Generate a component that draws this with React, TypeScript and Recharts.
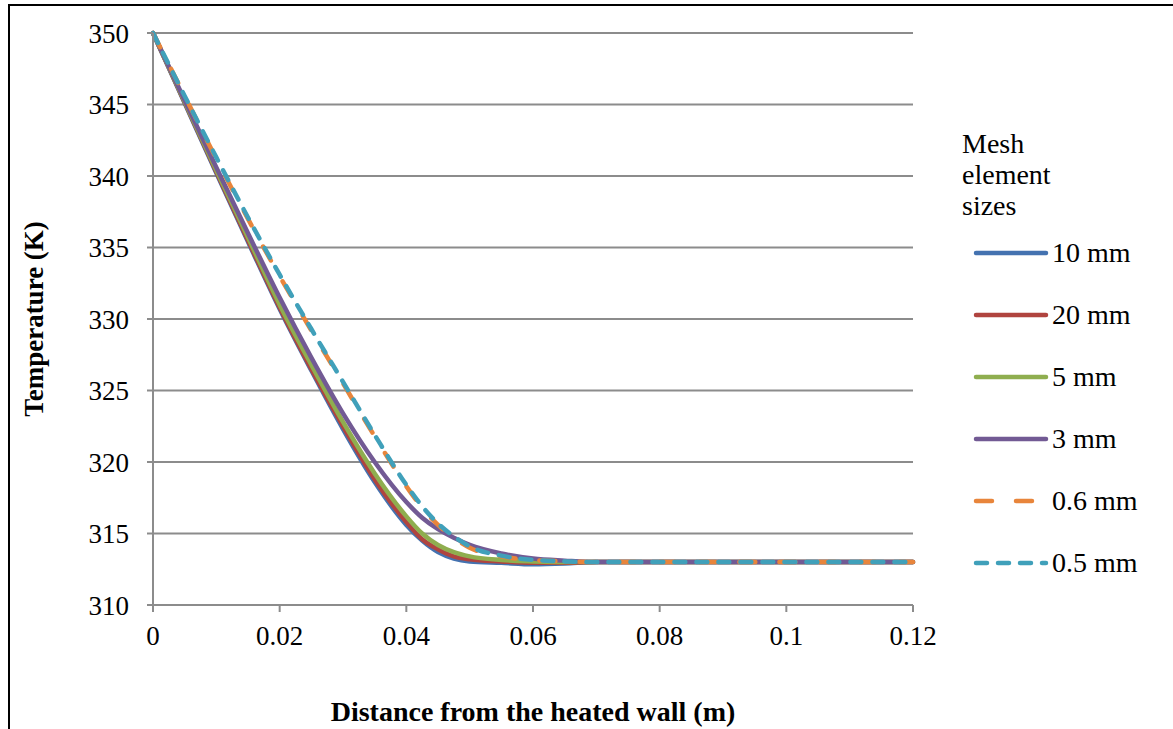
import React from "react";
import { LineChart, Line, XAxis, YAxis, CartesianGrid, Legend, Label } from "recharts";

// distance from the heated wall (m)
const DIST = [0, 0.005, 0.01, 0.015, 0.02, 0.025, 0.03, 0.035, 0.04, 0.0425, 0.045, 0.0475, 0.05, 0.055, 0.06, 0.065, 0.07, 0.08, 0.09, 0.1, 0.11, 0.12];

// temperature (K) per mesh element size
const T_10MM = [350, 345.1, 340.2, 335.4, 330.7, 326.4, 322.3, 318.6, 315.6, 314.5, 313.7, 313.25, 313.05, 312.95, 312.85, 312.9, 313.0, 313, 313, 313, 313, 313];
const T_20MM = [350, 345.15, 340.3, 335.5, 330.8, 326.5, 322.5, 318.8, 315.8, 314.6, 313.9, 313.4, 313.2, 313.05, 312.95, 312.95, 313.0, 313, 313, 313, 313, 313];
const T_5MM = [350, 345.2, 340.4, 335.7, 331.0, 326.8, 322.8, 319.2, 316.2, 315.0, 314.2, 313.7, 313.4, 313.15, 313.05, 313.0, 313.0, 313, 313, 313, 313, 313];
const T_3MM = [350, 345.3, 340.6, 336.0, 331.5, 327.3, 323.4, 320.0, 317.2, 316.1, 315.3, 314.7, 314.2, 313.6, 313.25, 313.1, 313.0, 313, 313, 313, 313, 313];
const T_06MM = [350, 345.6, 341.2, 337.0, 333.0, 329.2, 325.5, 321.8, 318.3, 316.8, 315.6, 314.7, 314.0, 313.4, 313.15, 313.05, 313.0, 313, 313, 313, 313, 313];
const T_05MM = [350, 345.6, 341.3, 337.1, 333.1, 329.3, 325.6, 321.9, 318.4, 316.9, 315.7, 314.8, 314.1, 313.45, 313.15, 313.05, 313.0, 313, 313, 313, 313, 313];

const X_TICKS = [0, 0.02, 0.04, 0.06, 0.08, 0.1, 0.12];
const Y_TICKS = [310, 315, 320, 325, 330, 335, 340, 345, 350];

const SERIES = [
    { key: "t10", name: "10 mm", values: T_10MM, color: "#4472b0", dash: undefined },
    { key: "t20", name: "20 mm", values: T_20MM, color: "#b0443f", dash: undefined },
    { key: "t5", name: "5 mm", values: T_5MM, color: "#8fae4f", dash: undefined },
    { key: "t3", name: "3 mm", values: T_3MM, color: "#725a94", dash: undefined },
    { key: "t06", name: "0.6 mm", values: T_06MM, color: "#e8853b", dash: "16 24" },
    { key: "t05", name: "0.5 mm", values: T_05MM, color: "#40a0ba", dash: "11 11" },
];

const FONT = "'Liberation Serif', 'Times New Roman', serif";
const FS = 27;

const rows = DIST.map((x, i) => {
    const row: Record<string, number> = { x };
    SERIES.forEach(s => { row[s.key] = s.values[i]; });
    return row;
});

function MeshLegend() {
    return (
        <div style={{ fontFamily: FONT, fontSize: 28, color: "#000", width: 210 }}>
            <div style={{ lineHeight: "31px", marginBottom: 1 }}>Mesh<br />element<br />sizes</div>
            {SERIES.map(s => (
                <div key={s.key} style={{ display: "flex", alignItems: "center", height: 62 }}>
                    <svg width={80} height={10} style={{ marginLeft: 10 }}>
                        <line x1={4} y1={5} x2={74} y2={5} stroke={s.color} strokeWidth={4.5}
                            strokeLinecap="round" strokeDasharray={s.dash} />
                    </svg>
                    <span>{s.name}</span>
                </div>
            ))}
        </div>
    );
}

export default function App() {
    return (
        <div style={{ position: "absolute", left: 0, top: 0, width: 1173, height: 729, background: "#fff", overflow: "hidden" }}>
            {/* outer frame, right and bottom edges are cropped off */}
            <div style={{ position: "absolute", left: 8, top: 4, width: 1180, height: 740, border: "2px solid #000", boxSizing: "border-box" }} />
            <LineChart width={1173} height={729} data={rows}
                margin={{ top: 33, right: 260, bottom: 94, left: 93 }}>
                <CartesianGrid vertical={false} stroke="#8c8c8c" strokeWidth={2} />
                <XAxis dataKey="x" type="number" domain={[0, 0.12]} ticks={X_TICKS} height={30}
                    stroke="#8c8c8c" strokeWidth={2} tickSize={7} tickMargin={14}
                    tick={{ fill: "#000", fontSize: FS, fontFamily: FONT }}
                    tickFormatter={(v: number) => String(v)}>
                    <Label value="Distance from the heated wall (m)" position="bottom" offset={66}
                        style={{ fill: "#000", fontSize: 28, fontWeight: "bold", fontFamily: FONT }} />
                </XAxis>
                <YAxis type="number" domain={[310, 350]} ticks={Y_TICKS} width={60} interval={0}
                    stroke="#8c8c8c" strokeWidth={2} tickSize={6} tickMargin={18}
                    tick={{ fill: "#000", fontSize: FS, fontFamily: FONT }}>
                    <Label value="Temperature (K)" angle={-90} position="insideLeft" offset={-60}
                        style={{ fill: "#000", fontSize: FS, fontWeight: "bold", fontFamily: FONT, textAnchor: "middle" }} />
                </YAxis>
                {SERIES.map(s => (
                    <Line key={s.key} dataKey={s.key} name={s.name} type="monotone" stroke={s.color}
                        strokeWidth={4.5} strokeDasharray={s.dash} strokeLinecap="round" dot={false}
                        activeDot={false} isAnimationActive={false} />
                ))}
                <Legend layout="vertical" align="center" verticalAlign="middle"
                    wrapperStyle={{ left: 962, top: 128, width: 210 }} content={() => <MeshLegend />} />
            </LineChart>
        </div>
    );
}
